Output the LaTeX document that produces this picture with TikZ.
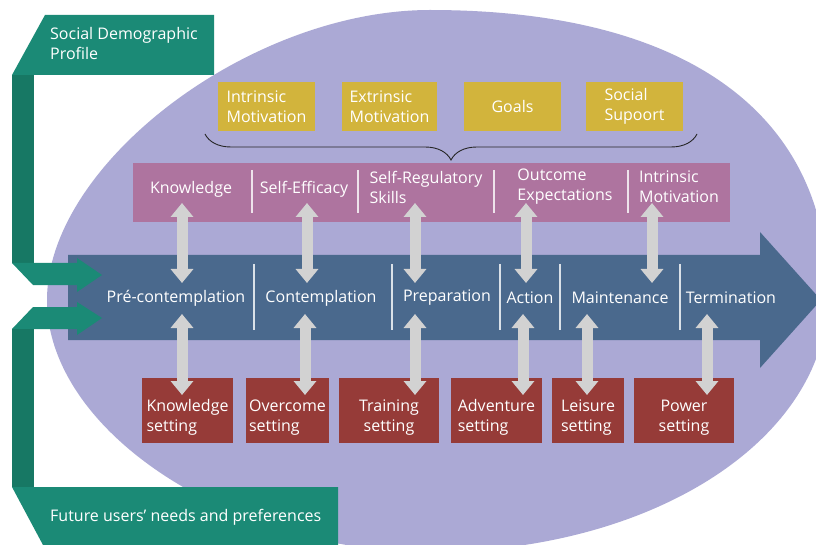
\documentclass[tikz,border=0pt]{standalone}
\usepackage{fontspec}
\setmainfont{Open Sans}
\usetikzlibrary{arrows.meta,decorations.pathreplacing}
\definecolor{ellc}{RGB}{171,169,213}
\definecolor{yellowc}{RGB}{210,180,60}
\definecolor{pinkc}{RGB}{174,116,159}
\definecolor{bluec}{RGB}{74,105,141}
\definecolor{redc}{RGB}{150,59,56}
\definecolor{tealc}{RGB}{27,138,118}
\definecolor{darkteal}{RGB}{23,120,100}
\definecolor{grayc}{RGB}{210,210,210}
\begin{document}
\begin{tikzpicture}[x=1pt,y=-1pt,
  lbl/.style={text=white,font=\fontsize{16}{20}\selectfont,align=left,inner sep=0pt},
  ybox/.style={lbl,fill=yellowc,minimum height=49pt},
  rbox/.style={fill=redc,minimum height=65pt,inner sep=0pt},
  garrow/.style={draw=grayc,line width=11pt,{Triangle[width=22pt,length=14pt]}-{Triangle[width=22pt,length=14pt]}},
  divider/.style={draw=white,draw opacity=0.8,line width=1.1pt}]
\useasboundingbox (0,0) rectangle (816,545);
\fill[white] (0,0) rectangle (816,545);
\clip (0,0) rectangle (816,545);
% egg-shaped ellipse (four quarter arcs)
\fill[ellc] (47,300) .. controls (47,164) and (250,10) .. (430,10)
  .. controls (685,10) and (828,113) .. (828,295)
  .. controls (828,439) and (653,552) .. (430,552)
  .. controls (231,552) and (47,431) .. (47,300) -- cycle;
% yellow boxes
\node[ybox,minimum width=97pt] (y1) at (266.5,106.5) {Intrinsic\\Motivation};
\node[ybox,minimum width=95pt] (y2) at (389.5,106.5) {Extrinsic\\Motivation};
\node[ybox,minimum width=97pt] (y3) at (512.5,106.5) {Goals};
\node[ybox,minimum width=97pt] (y4) at (634.5,106.5) {Social\\Supoort};
% brace
\coordinate (bl) at (205,134);
\coordinate (br) at (697,134);
\draw[black!85,line width=0.9pt,decorate,decoration={brace,amplitude=26pt,mirror}] (bl) -- (br);
% pink row
\node[fill=pinkc,minimum width=597pt,minimum height=59pt,inner sep=0pt] (prow) at (431.5,192.5) {};
\foreach \x in {252,358,494,628} \draw[divider] (\x,170) -- (\x,213);
\node[lbl] (p1) at (191,189) {Knowledge};
\node[lbl] (p2) at (304,189) {Self-Efficacy};
\node[lbl] (p3) at (426,187) {Self-Regulatory\\Skills};
\node[lbl] (p4) at (565,187) {Outcome\\Expectations};
\node[lbl] (p5) at (679,187) {Intrinsic\\Motivation};
% blue arrow
\fill[bluec] (68,255) -- (760,255) -- (760,232) -- (821,300) -- (760,368) -- (760,340) -- (68,340) -- cycle;
\foreach \x in {254,392,500,560,680} \draw[divider] (\x,264) -- (\x,330);
\node[lbl] (s1) at (176,298) {Pré-contemplation};
\node[lbl] (s2) at (321,298) {Contemplation};
\node[lbl] (s3) at (447,298) {Preparation};
\node[lbl] (s4) at (530,298) {Action};
\node[lbl] (s5) at (620,298) {Maintenance};
\node[lbl] (s6) at (731,298) {Termination};
% green shapes
\fill[tealc] (45,15) -- (214,15) -- (214,75) -- (12,75) -- cycle;
\fill[darkteal] (12,75) -- (34,75) -- (34,263) -- (12,263) -- cycle;
\fill[tealc] (12,263) -- (77,263) -- (77,258) -- (102,275) -- (77,292) -- (77,285) -- (33,285) -- cycle;
\fill[tealc] (33,307) -- (77,307) -- (77,302) -- (102,318) -- (77,335) -- (77,329) -- (12,329) -- cycle;
\fill[darkteal] (12,329) -- (34,329) -- (34,487) -- (12,487) -- cycle;
\fill[tealc] (12,487) -- (338,487) -- (338,545) -- (43,545) -- cycle;
\node[lbl,anchor=west] (sdp) at (50,44) {Social Demographic\\Profile};
\node[lbl,anchor=west] (fun) at (50,517) {Future users’ needs and preferences};
% red boxes
\node[rbox,minimum width=91pt] (r1) at (187.5,410.5) {};
\node[rbox,minimum width=83pt] (r2) at (287.5,410.5) {};
\node[rbox,minimum width=100pt] (r3) at (389,410.5) {};
\node[rbox,minimum width=91pt] (r4) at (496.5,410.5) {};
\node[rbox,minimum width=72pt] (r5) at (588,410.5) {};
\node[rbox,minimum width=100pt] (r6) at (684,410.5) {};
\node[lbl] (r1t) at ([yshift=-7pt]r1.center) {Knowledge\\setting};
\node[lbl] (r2t) at ([yshift=-7pt]r2.center) {Overcome\\setting};
\node[lbl,align=center] (r3t) at ([yshift=-7pt]r3.center) {Training\\setting};
\node[lbl] (r4t) at ([yshift=-7pt]r4.center) {Adventure\\setting};
\node[lbl] (r5t) at ([yshift=-7pt]r5.center) {Leisure\\setting};
\node[lbl,align=center] (r6t) at ([yshift=-7pt]r6.center) {Power\\setting};
% gray double arrows (upper)
\coordinate (ua1) at (182,203); \coordinate (ub1) at (182,283);
\coordinate (ua2) at (307,203); \coordinate (ub2) at (307,283);
\coordinate (ua3) at (415,203); \coordinate (ub3) at (415,283);
\coordinate (ua4) at (526,203); \coordinate (ub4) at (526,283);
\coordinate (ua5) at (652,203); \coordinate (ub5) at (652,283);
\foreach \i in {1,...,5} \draw[garrow] (ua\i) -- (ub\i);
% gray double arrows (lower)
\coordinate (la1) at (182,314); \coordinate (lb1) at (182,395);
\coordinate (la2) at (305,314); \coordinate (lb2) at (305,395);
\coordinate (la3) at (415,314); \coordinate (lb3) at (415,395);
\coordinate (la4) at (523,314); \coordinate (lb4) at (523,395);
\coordinate (la5) at (587,314); \coordinate (lb5) at (587,395);
\coordinate (la6) at (707,314); \coordinate (lb6) at (707,395);
\foreach \i in {1,...,6} \draw[garrow] (la\i) -- (lb\i);
\end{tikzpicture}
\end{document}
